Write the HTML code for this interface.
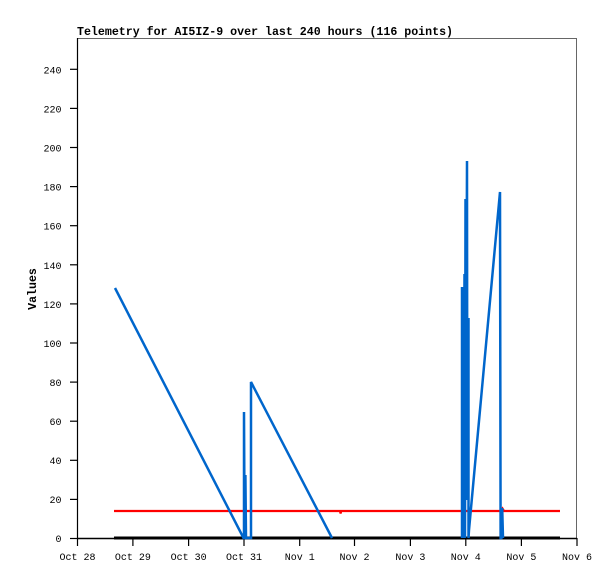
<!DOCTYPE html>
<html><head><meta charset="utf-8"><style>
html,body{margin:0;padding:0;background:#fff;}
svg{display:block;}
text{font-family:"Liberation Mono","DejaVu Sans Mono",monospace;fill:#000;}
</style></head><body>
<svg width="615" height="579" viewBox="0 0 615 579" xmlns="http://www.w3.org/2000/svg">
<rect width="615" height="579" fill="#fff"/>
<text x="77" y="35" font-size="11.6" font-weight="bold" textLength="376" lengthAdjust="spacingAndGlyphs">Telemetry for AI5IZ-9 over last 240 hours (116 points)</text>
<!-- frame -->
<line x1="77" y1="38.5" x2="577" y2="38.5" stroke="#666" stroke-width="1"/>
<line x1="576.5" y1="38" x2="576.5" y2="538" stroke="#666" stroke-width="1"/>
<line x1="77.5" y1="38" x2="77.5" y2="539" stroke="#000" stroke-width="1.2"/>
<line x1="77" y1="538.5" x2="577" y2="538.5" stroke="#000" stroke-width="1.5"/>
<!-- y ticks -->
<g stroke="#000" stroke-width="1.2">
<line x1="70" x2="77" y1="538.5" y2="538.5"/>
<line x1="70" x2="77" y1="499.4" y2="499.4"/>
<line x1="70" x2="77" y1="460.3" y2="460.3"/>
<line x1="70" x2="77" y1="421.2" y2="421.2"/>
<line x1="70" x2="77" y1="382.1" y2="382.1"/>
<line x1="70" x2="77" y1="343" y2="343"/>
<line x1="70" x2="77" y1="303.9" y2="303.9"/>
<line x1="70" x2="77" y1="264.8" y2="264.8"/>
<line x1="70" x2="77" y1="225.7" y2="225.7"/>
<line x1="70" x2="77" y1="186.6" y2="186.6"/>
<line x1="70" x2="77" y1="147.5" y2="147.5"/>
<line x1="70" x2="77" y1="108.4" y2="108.4"/>
<line x1="70" x2="77" y1="69.3" y2="69.3"/>
</g>
<g font-size="10" text-anchor="end">
<text x="61.5" y="542">0</text>
<text x="61.5" y="503">20</text>
<text x="61.5" y="464">40</text>
<text x="61.5" y="425">60</text>
<text x="61.5" y="386">80</text>
<text x="61.5" y="347">100</text>
<text x="61.5" y="308">120</text>
<text x="61.5" y="269">140</text>
<text x="61.5" y="229.5">160</text>
<text x="61.5" y="190.5">180</text>
<text x="61.5" y="151.5">200</text>
<text x="61.5" y="112.5">220</text>
<text x="61.5" y="73.5">240</text>
</g>
<text transform="translate(36,289) rotate(-90)" font-size="11.6" font-weight="bold" text-anchor="middle">Values</text>
<!-- x ticks -->
<g stroke="#000" stroke-width="1.2">
<line x1="77.5" x2="77.5" y1="538" y2="546"/>
<line x1="132.9" x2="132.9" y1="538" y2="546"/>
<line x1="188.6" x2="188.6" y1="538" y2="546"/>
<line x1="244" x2="244" y1="538" y2="546"/>
<line x1="299.7" x2="299.7" y1="538" y2="546"/>
<line x1="354.5" x2="354.5" y1="538" y2="546"/>
<line x1="410.4" x2="410.4" y1="538" y2="546"/>
<line x1="465.8" x2="465.8" y1="538" y2="546"/>
<line x1="521.4" x2="521.4" y1="538" y2="546"/>
<line x1="577" x2="577" y1="538" y2="546"/>
</g>
<g font-size="10" text-anchor="middle">
<text x="77.5" y="560">Oct 28</text>
<text x="132.9" y="560">Oct 29</text>
<text x="188.6" y="560">Oct 30</text>
<text x="244" y="560">Oct 31</text>
<text x="299.7" y="560">Nov 1</text>
<text x="354.5" y="560">Nov 2</text>
<text x="410.4" y="560">Nov 3</text>
<text x="465.8" y="560">Nov 4</text>
<text x="521.4" y="560">Nov 5</text>
<text x="577" y="560">Nov 6</text>
</g>
<!-- black series at 0 -->
<line x1="114" y1="538" x2="560" y2="538" stroke="#000" stroke-width="3"/>
<!-- red series -->
<path d="M114,511 L340,511 L340.6,513.5 L341.2,511 L501,511 L502.5,508.5 L504,511 L560,511" fill="none" stroke="#ff0000" stroke-width="2.2"/>
<!-- blue series -->
<g fill="none" stroke="#0066cc" stroke-width="2.5" stroke-linejoin="miter">
<path d="M115,288 L243.5,538 L244,538 L244,412 L244.6,538 L245.4,475 L246,538 L251,538 L251,382 L332,538"/>
<path d="M462,538 L462,287 L462.8,538 L463,340 L463.3,500 L464.5,274 L465,538 L465.5,199 L466,440 L467,161 L467.3,500 L468.5,318 L468.5,538 L469,530 L500,192 L500.6,538 L501.4,538 L502.2,508 L503,538"/>
</g>
</svg>
</body></html>
